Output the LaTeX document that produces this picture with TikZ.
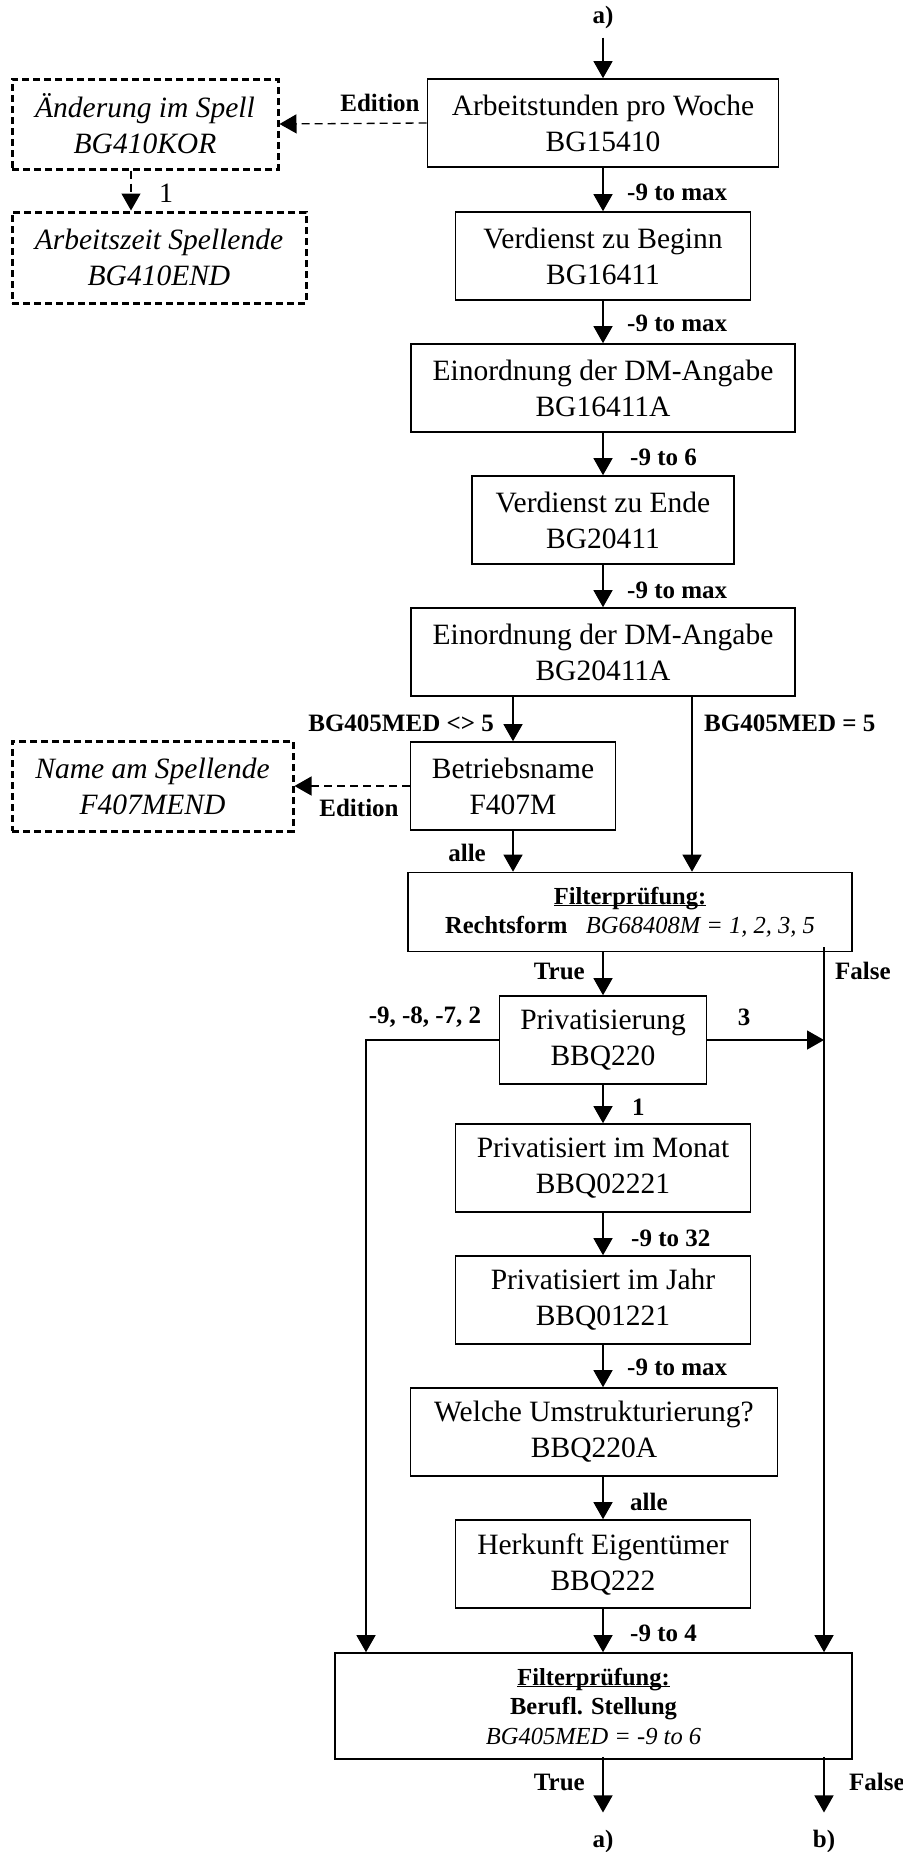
\documentclass[tikz,border=0pt]{standalone}
\usepackage{fontspec}
\setmainfont{Liberation Serif}
\usetikzlibrary{arrows.meta,calc}
\newcommand{\fpul}[1]{\underline{\raisebox{0pt}[\height][0pt]{#1}}}
\begin{document}
\begin{tikzpicture}[x=1pt,y=-1pt,
  box/.style={draw,line width=1.6pt,inner sep=0pt,align=center,font=\fontsize{29.5}{36}\selectfont},
  dbox/.style={draw,line width=3pt,dash pattern=on 7pt off 4pt,inner sep=0pt,align=center,font=\itshape\fontsize{29.5}{36}\selectfont},
  fbox/.style={draw,line width=1.6pt,inner sep=0pt,align=center,font=\fontsize{24.5}{29.5}\selectfont},
  lbl/.style={font=\bfseries\fontsize{25}{30}\selectfont,inner sep=0pt},
  arr/.style={line width=1.3pt,-{Triangle[width=19pt,length=17pt]}},
  darr/.style={arr,dash pattern=on 8pt off 5pt},
  ln/.style={line width=1.3pt}
]
\useasboundingbox (0,0) rectangle (902,1852);

% main column
\node[box,minimum width=351pt,minimum height=88pt] (b1) at (603,123) {Arbeitstunden pro Woche\\BG15410};
\node[box,minimum width=295pt,minimum height=88pt] (b2) at (603,256) {Verdienst zu Beginn\\BG16411};
\node[box,minimum width=384pt,minimum height=88pt] (b3) at (603,388) {Einordnung der DM-Angabe\\BG16411A};
\node[box,minimum width=262pt,minimum height=88pt] (b4) at (603,520) {Verdienst zu Ende\\BG20411};
\node[box,minimum width=384pt,minimum height=88pt] (b5) at (603,652) {Einordnung der DM-Angabe\\BG20411A};
\node[box,minimum width=205pt,minimum height=88pt] (b6) at (513,786) {Betriebsname\\F407M};
\node[fbox,minimum width=444pt,minimum height=79pt] (f1) at (630,912) {\textbf{\fpul{Filterprüfung:}}\\\textbf{Rechtsform}\hspace{0.75em}\textit{BG68408M = 1, 2, 3, 5}};
\node[box,minimum width=207pt,minimum height=88pt] (b7) at (603,1040) {Privatisierung\\BBQ220};
\node[box,minimum width=295pt,minimum height=88pt] (b8) at (603,1168) {Privatisiert im Monat\\BBQ02221};
\node[box,minimum width=295pt,minimum height=88pt] (b9) at (603,1300) {Privatisiert im Jahr\\BBQ01221};
\node[box,minimum width=367pt,minimum height=88pt] (b10) at (594,1432) {Welche Umstrukturierung?\\BBQ220A};
\node[box,minimum width=295pt,minimum height=88pt] (b11) at (603,1564) {Herkunft Eigentümer\\BBQ222};
\node[fbox,minimum width=517pt,minimum height=106pt] (f2) at (593.5,1706) {\textbf{\fpul{Filterprüfung:}}\\\textbf{Berufl. Stellung}\\\textit{BG405MED = -9 to 6}};

% dashed side boxes
\node[dbox,minimum width=266pt,minimum height=90pt] (d1) at (145,124) {Änderung im Spell\\BG410KOR};
\node[dbox,minimum width=294pt,minimum height=91pt] (d2) at (159,257.5) {Arbeitszeit Spellende\\BG410END};
\node[dbox,minimum width=281pt,minimum height=90pt] (d3) at (152.5,786) {Name am Spellende\\F407MEND};

% terminals
\node[lbl] (atop) at (603,17) {a)};
\node[lbl] (abot) at (603,1841) {a)};
\node[lbl] (bbot) at (824,1841) {b)};

\coordinate (fx) at ([xshift=194pt]f1.south);

% connectors
\draw[arr,shorten <=9pt] (atop.south) -- (atop.south |- b1.north);
\draw[arr] (b1) -- (b2);
\draw[arr] (b2) -- (b3);
\draw[arr] (b3) -- (b4);
\draw[arr] (b4) -- (b5);
\draw[arr] (b6.north |- b5.south) -- (b6.north);
\draw[arr] ([xshift=89pt]b5.south) -- ([xshift=89pt]b5.south |- f1.north);
\draw[arr] (b6.south) -- (b6.south |- f1.north);
\draw[darr] (b1.west) -- (d1.east);
\draw[darr] ([xshift=-14pt]d1.south) -- ([xshift=-14pt]d1.south |- d2.north);
\draw[darr] (b6.west) -- (d3.east);
\draw[arr] (f1.south -| b7.north) -- (b7.north);
\draw[arr] ([yshift=5pt]fx) -- (fx |- f2.north);
\draw[arr] (b7.east) -- (b7.east -| fx);
\draw[arr] (b7.west) -| ([xshift=-227.5pt]f2.north);
\draw[arr] (b7) -- (b8);
\draw[arr] (b8) -- (b9);
\draw[arr] (b9.south) -- (b9.south |- b10.north);
\draw[arr] (b11.north |- b10.south) -- (b11.north);
\draw[arr] (b11.south) -- (b11.south |- f2.north);
\draw[arr,shorten >=17pt] ([yshift=3pt]abot.north |- f2.south) -- (abot.north);
\draw[arr,shorten >=17pt] ([yshift=3pt]bbot.north |- f2.south) -- (bbot.north);

% labels
\node[lbl,anchor=west] at (627,192) {-9 to max};
\node[lbl,anchor=west] at (627,323) {-9 to max};
\node[lbl,anchor=west] at (630,457) {-9 to 6};
\node[lbl,anchor=west] at (627,590) {-9 to max};
\node[lbl,anchor=east] at (494,723) {BG405MED <> 5};
\node[lbl,anchor=west] at (704,723) {BG405MED = 5};
\node[lbl,anchor=east] at (486,853) {alle};
\node[lbl] at (380,103) {Edition};
\node[lbl] at (359,808) {Edition};
\node[font=\fontsize{28}{30}\selectfont,inner sep=0pt] at (166,193) {1};
\node[lbl,anchor=east] at (585,971) {True};
\node[lbl,anchor=west] at (835,971) {False};
\node[lbl] at (425,1017) {-9, -8, -7, 2};
\node[lbl] at (744,1017) {3};
\node[lbl,anchor=west] at (632,1107) {1};
\node[lbl,anchor=west] at (631,1238) {-9 to 32};
\node[lbl,anchor=west] at (627,1367) {-9 to max};
\node[lbl,anchor=west] at (630,1502) {alle};
\node[lbl,anchor=west] at (630,1633) {-9 to 4};
\node[lbl,anchor=east] at (585,1782) {True};
\node[lbl,anchor=west] at (849,1782) {False};
\end{tikzpicture}
\end{document}
